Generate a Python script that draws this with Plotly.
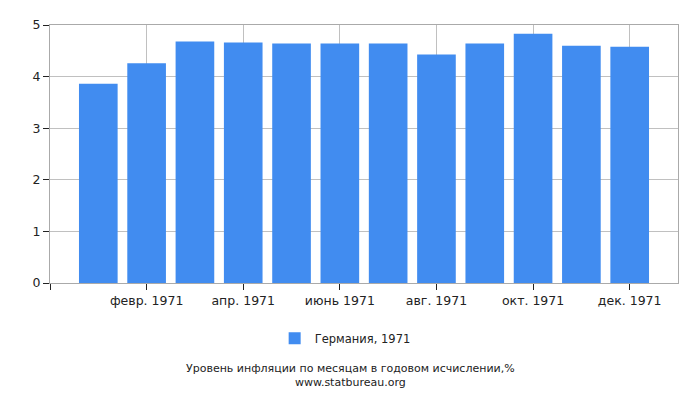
import plotly.graph_objects as go

# monthly inflation, Germany 1971 (% year on year)
months = ["янв. 1971", "февр. 1971", "март 1971", "апр. 1971", "май 1971", "июнь 1971",
          "июль 1971", "авг. 1971", "сент. 1971", "окт. 1971", "нояб. 1971", "дек. 1971"]
values = [3.86, 4.26, 4.68, 4.66, 4.64, 4.64, 4.64, 4.43, 4.64, 4.83, 4.60, 4.58]
series_name = "Германия, 1971"
tick_idx = [-1, 1, 3, 5, 7, 9, 11]
tick_text = [""] + [months[i] for i in tick_idx[1:]]

fig = go.Figure()
fig.add_trace(go.Bar(
    x=list(range(len(months))),
    y=values,
    name=series_name,
    marker=dict(color="#418cf0", line=dict(width=0)),
    width=0.8,
    showlegend=True,
))

# page body has an 8px margin, so figure is a bit smaller than the window
fig.update_layout(
    width=684,
    height=384,
    margin=dict(l=42, r=14, t=9, b=109),
    paper_bgcolor="white",
    plot_bgcolor="white",
    font=dict(family="DejaVu Sans", size=12.5, color="#222"),
    showlegend=True,
    legend=dict(orientation="h", x=0.47, xanchor="center", y=-0.214, yanchor="middle",
                font=dict(size=11.5)),
    annotations=[
        dict(text="Уровень инфляции по месяцам в годовом исчислении,%<br>www.statbureau.org",
             x=0.478, y=-0.357, xref="paper", yref="paper", showarrow=False,
             yanchor="middle", font=dict(size=11, color="#222")),
    ],
)

fig.update_xaxes(
    range=[-1, 12],
    tickmode="array",
    tickvals=tick_idx,
    ticktext=tick_text,
    showgrid=True,
    gridcolor="#c0c0c0",
    ticks="outside",
    ticklen=6,
    tickcolor="#222",
    showline=True,
    linecolor="#aaa",
    mirror=True,
    zeroline=False,
)
fig.update_yaxes(
    range=[0, 5],
    dtick=1,
    showgrid=True,
    gridcolor="#c0c0c0",
    ticks="outside",
    ticklen=6,
    tickcolor="#222",
    showline=True,
    linecolor="#aaa",
    mirror=True,
    zeroline=False,
)

fig.write_html("out.html")
